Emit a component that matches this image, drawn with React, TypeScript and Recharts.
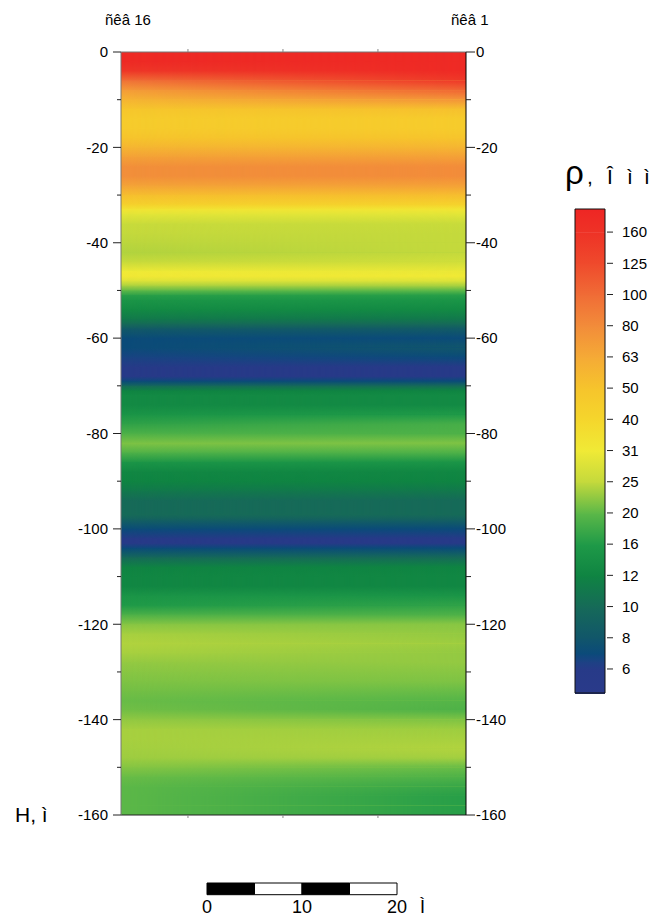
import React from 'react'
import { ComposedChart, BarChart, Bar, XAxis, YAxis, ReferenceArea } from 'recharts'

// depth, m (0 = surface)
const depths = [
  0, -2, -4, -6, -8, -10, -12, -14, -16, -18, -20, -22, -24, -26, -28, -30, -32, -33, -34, -36,
  -38, -40, -42, -44, -46, -47, -48, -49, -50, -51, -52, -54, -56, -57, -58, -60, -62, -64, -66, -68,
  -69, -70, -71, -72, -74, -76, -78, -80, -82, -84, -86, -88, -90, -92, -94, -97, -98, -100, -102, -103,
  -104, -106, -108, -110, -112, -114, -116, -118, -120, -122, -124, -126, -128, -130, -132, -134, -136, -138, -140, -142,
  -144, -146, -148, -150, -152, -154, -156, -158, -160,
]

// resistivity, Ohm*m, well 16 (left side)
const rhoWell16 = [
  180, 180, 150, 95, 70, 57, 48, 45, 46, 50, 57, 68, 78, 78, 66, 52, 42, 33, 29, 25.5,
  25, 24.5, 24, 25.5, 31, 32, 28, 23.5, 20, 16.5, 15, 13, 11, 10, 8.3, 7, 7, 6.5, 6, 6,
  7, 10, 12, 13, 13, 15, 17, 19, 21.5, 19, 15, 12.5, 12, 11, 10, 10, 9, 7, 6, 6,
  7, 10, 12, 12.5, 12.5, 15, 16, 19, 22, 23.5, 24, 23.5, 22.5, 22, 21.5, 21, 20.5, 21, 22.5, 23.5,
  23.5, 23.3, 23, 21.8, 20.5, 20, 20, 20, 20,
]

// resistivity, Ohm*m, well 1 (right side)
const rhoWell1 = [
  180, 180, 180, 150, 105, 75, 52, 46, 46, 50, 57, 68, 80, 80, 68, 53, 42, 33, 29, 25.5,
  25, 25, 25, 26.5, 30, 31.5, 28, 23.5, 20, 16.5, 15, 13, 11, 10, 8.5, 7, 8, 7, 6, 6,
  7, 10, 12, 13, 13, 16, 18.5, 19, 21.5, 19, 15, 12.5, 12, 11, 10, 10, 9, 7, 6, 6,
  7, 10, 12, 12.5, 12.5, 15, 17, 19, 22, 22.5, 23, 22.5, 22.5, 22, 21.5, 20.5, 19.5, 19, 21.5, 23,
  23.5, 24, 23.3, 20.5, 19, 17.5, 16.5, 16.5, 16.5,
]

const depthTicks = [0, -10, -20, -30, -40, -50, -60, -70, -80, -90, -100, -110, -120, -130, -140, -150, -160]
const distTicks = [10, 20, 30]
const legendLevels = [6, 8, 10, 12, 16, 20, 25, 31, 40, 50, 63, 80, 100, 125, 160]
const legendTicks = legendLevels.map((_, i) => i)
const scaleBarSegments = [5, 5, 5, 5]
const scaleBarTicks = [0, 10, 20]

// colour scale, keyed by position on the legend (legend index)
const paletteIdx = [-0.77, 0, 0.25, 0.5, 1, 2, 3, 4, 5, 6, 7, 8, 9, 10, 11, 12, 13, 14, 14.74]
const paletteHex = [
  '#2a3a8a', '#273a88', '#1c4284', '#0b4a7a', '#11566a', '#166a58', '#0f8442', '#1f9a48', '#5cb848', '#c4d93c',
  '#f0ea36', '#f5d62c', '#f6c42c', '#f5aa36', '#f28c3a', '#f06c36', '#ef4a2c', '#ee3226', '#ee2624',
]

const X_DOMAIN = [2.95, 39.27]
const LEG_DOMAIN = [-0.77, 14.74]
const FONT = '"Liberation Sans", Arial, sans-serif'

const rgb = (h: string) => [1, 3, 5].map((k) => parseInt(h.slice(k, k + 2), 16))

function colorAt(t: number) {
  const n = paletteIdx.length
  if (t <= paletteIdx[0]) return paletteHex[0]
  if (t >= paletteIdx[n - 1]) return paletteHex[n - 1]
  let i = 0
  while (t > paletteIdx[i + 1]) i++
  const f = (t - paletteIdx[i]) / (paletteIdx[i + 1] - paletteIdx[i])
  const a = rgb(paletteHex[i])
  const b = rgb(paletteHex[i + 1])
  const c = a.map((v, k) => Math.round(v + (b[k] - v) * f))
  return `rgb(${c[0]},${c[1]},${c[2]})`
}

// resistivity -> legend index (legend levels are equally spaced)
function rhoIdx(r: number) {
  const L = legendLevels
  const n = L.length
  if (r <= L[0]) return Math.log(r / L[0]) / Math.log(L[1] / L[0])
  if (r >= L[n - 1]) return n - 1 + Math.log(r / L[n - 1]) / Math.log(L[n - 1] / L[n - 2])
  let i = 0
  while (r > L[i + 1]) i++
  return i + Math.log(r / L[i]) / Math.log(L[i + 1] / L[i])
}

const rhoColor = (r: number) => colorAt(rhoIdx(r))

// opaque bands run 1px past their end so neighbours never leave a seam;
// the faded (masked) bands are snapped to pixels instead, so they never double up
const band = (fill: string, masked = false, last = false) => (p: any) => (
  <rect
    x={p.x}
    y={p.y}
    width={p.width}
    height={p.height + (last || masked ? 0 : 1)}
    fill={fill}
    mask={masked ? 'url(#fadeR)' : undefined}
    shapeRendering={masked ? 'crispEdges' : undefined}
  />
)

function VGrad({ id, top, bottom }: { id: string; top: string; bottom: string }) {
  return (
    <linearGradient id={id} x1="0" y1="0" x2="0" y2="1">
      <stop offset="0" stopColor={top} />
      <stop offset="1" stopColor={bottom} />
    </linearGradient>
  )
}

function Defs() {
  return (
    <defs>
      <linearGradient id="hfade" x1="0" y1="0" x2="1" y2="0">
        <stop offset="0" stopColor="#fff" stopOpacity={0} />
        <stop offset="1" stopColor="#fff" stopOpacity={1} />
      </linearGradient>
      <mask id="fadeR" maskContentUnits="objectBoundingBox">
        <rect x="0" y="0" width="1" height="1" fill="url(#hfade)" />
      </mask>
      {depths.slice(0, -1).map((_, i) => (
        <VGrad key={'a' + i} id={`w16-${i}`} top={rhoColor(rhoWell16[i])} bottom={rhoColor(rhoWell16[i + 1])} />
      ))}
      {depths.slice(0, -1).map((_, i) => (
        <VGrad key={'b' + i} id={`w1-${i}`} top={rhoColor(rhoWell1[i])} bottom={rhoColor(rhoWell1[i + 1])} />
      ))}
      {paletteIdx.slice(0, -1).map((_, i) => (
        <VGrad key={'c' + i} id={`leg-${i}`} top={paletteHex[i + 1]} bottom={paletteHex[i]} />
      ))}
    </defs>
  )
}

const LeftTick = ({ x, y, payload }: any) => {
  const major = payload.value % 20 === 0
  return (
    <g>
      <line x1={x - (major ? 8 : 4)} x2={x} y1={y} y2={y} stroke="#222" />
      {major && (
        <text x={x - 13} y={y} dy="0.35em" textAnchor="end" fontSize={15} fontFamily={FONT} fill="#000">
          {payload.value}
        </text>
      )}
    </g>
  )
}

const RightTick = ({ x, y, payload }: any) => {
  const major = payload.value % 20 === 0
  return (
    <g>
      <line x1={x} x2={x + (major ? 9 : 5)} y1={y} y2={y} stroke="#222" />
      {major && (
        <text x={x + 10} y={y} dy="0.35em" textAnchor="start" fontSize={15} fontFamily={FONT} fill="#000">
          {payload.value}
        </text>
      )}
    </g>
  )
}

const LegendTick = ({ x, y, payload }: any) => (
  <g>
    <line x1={x + 2} x2={x + 8} y1={y} y2={y} stroke="#222" />
    <text x={x + 17} y={y} dy="0.35em" textAnchor="start" fontSize={15} fontFamily={FONT} fill="#000">
      {legendLevels[payload.value]}
    </text>
  </g>
)

const sectionRows = depths.map((d, i) => ({ x: X_DOMAIN[0], d, w16: rhoWell16[i], w1: rhoWell1[i] }))
const legendRows = legendLevels.map((v, i) => ({ x: 0, i, v }))

function Section() {
  const last = depths.length - 2
  return (
    <ComposedChart
      width={560}
      height={850}
      data={sectionRows}
      margin={{ top: 42, right: 34, bottom: 25, left: 61 }}
    >
      <XAxis
        dataKey="x"
        type="number"
        domain={X_DOMAIN}
        ticks={distTicks}
        tickFormatter={() => ''}
        height={10}
        tickSize={3}
        axisLine={{ stroke: '#222' }}
        tickLine={{ stroke: '#888' }}
        allowDataOverflow
      />
      <XAxis
        xAxisId="top"
        dataKey="x"
        orientation="top"
        type="number"
        domain={X_DOMAIN}
        ticks={distTicks}
        tickFormatter={() => ''}
        height={10}
        tickSize={3}
        axisLine={{ stroke: '#777' }}
        tickLine={{ stroke: '#888' }}
        allowDataOverflow
      />
      <YAxis
        dataKey="d"
        type="number"
        domain={[-160, 0]}
        ticks={depthTicks}
        interval={0}
        width={60}
        tickSize={0}
        tickMargin={0}
        tickLine={false}
        axisLine={{ stroke: '#777' }}
        tick={(p: any) => <LeftTick {...p} />}
        allowDataOverflow
      />
      <YAxis
        yAxisId="r"
        dataKey="d"
        orientation="right"
        type="number"
        domain={[-160, 0]}
        ticks={depthTicks}
        interval={0}
        width={60}
        tickSize={0}
        tickMargin={0}
        tickLine={false}
        axisLine={{ stroke: '#000' }}
        tick={(p: any) => <RightTick {...p} />}
        allowDataOverflow
      />
      {depths.slice(0, -1).map((d, i) => (
        <ReferenceArea
          key={'l' + i}
          x1={X_DOMAIN[0]}
          x2={X_DOMAIN[1]}
          y1={d}
          y2={depths[i + 1]}
          ifOverflow="visible"
          shape={band(`url(#w16-${i})`, false, i === last)}
        />
      ))}
      {depths.slice(0, -1).map((d, i) => (
        <ReferenceArea
          key={'r' + i}
          x1={X_DOMAIN[0]}
          x2={X_DOMAIN[1]}
          y1={d}
          y2={depths[i + 1]}
          ifOverflow="visible"
          shape={band(`url(#w1-${i})`, true, i === last)}
        />
      ))}
    </ComposedChart>
  )
}

function Legend() {
  const last = paletteIdx.length - 2
  return (
    <ComposedChart
      width={117}
      height={540}
      data={legendRows}
      margin={{ top: 29, right: 0, bottom: 27, left: 35 }}
    >
      <XAxis dataKey="x" type="number" domain={[0, 1]} hide />
      <YAxis
        dataKey="i"
        orientation="right"
        type="number"
        domain={LEG_DOMAIN}
        ticks={legendTicks}
        interval={0}
        width={52}
        tickSize={0}
        tickMargin={0}
        tickLine={false}
        axisLine={false}
        tick={(p: any) => <LegendTick {...p} />}
        allowDataOverflow
      />
      {paletteIdx.slice(0, -1).map((v, i) => (
        <ReferenceArea
          key={i}
          x1={0}
          x2={1}
          y1={paletteIdx[i + 1]}
          y2={v}
          ifOverflow="visible"
          shape={band(`url(#leg-${i})`, false, i === last)}
        />
      ))}
      <ReferenceArea
        x1={0}
        x2={1}
        y1={LEG_DOMAIN[0]}
        y2={LEG_DOMAIN[1]}
        ifOverflow="visible"
        fill="none"
        fillOpacity={0}
        stroke="#111"
        strokeWidth={1}
      />
    </ComposedChart>
  )
}

function ScaleBar() {
  const row: Record<string, any> = { name: 'bar' }
  scaleBarSegments.forEach((v, i) => (row['s' + i] = v))
  return (
    <BarChart
      layout="vertical"
      width={250}
      height={45}
      data={[row]}
      margin={{ top: 10, right: 30, bottom: 0, left: 30 }}
      barCategoryGap={0}
    >
      <XAxis
        type="number"
        domain={[0, 20]}
        ticks={scaleBarTicks}
        interval={0}
        height={22}
        axisLine={false}
        tickLine={false}
        tickSize={0}
        tickMargin={5}
        tick={{ fontSize: 18, fontFamily: FONT, fill: '#000' }}
      />
      <YAxis type="category" dataKey="name" hide />
      {scaleBarSegments.map((_, i) => (
        <Bar
          key={i}
          dataKey={'s' + i}
          stackId="a"
          fill={i % 2 === 0 ? '#000' : '#fff'}
          stroke="#000"
          strokeWidth={1}
          barSize={13}
          isAnimationActive={false}
        />
      ))}
    </BarChart>
  )
}

export default function App() {
  return (
    <div
      style={{
        position: 'absolute',
        left: 0,
        top: 0,
        width: 657,
        height: 917,
        overflow: 'hidden',
        background: '#fff',
        fontFamily: FONT,
      }}
    >
      <div style={{ position: 'absolute', left: 0, top: 0 }}>
        <Section />
      </div>
      <div style={{ position: 'absolute', left: 540, top: 180 }}>
        <Legend />
      </div>
      <div style={{ position: 'absolute', left: 177, top: 872 }}>
        <ScaleBar />
      </div>
      <svg
        width={657}
        height={917}
        style={{ position: 'absolute', left: 0, top: 0, pointerEvents: 'none' }}
        fontFamily={FONT}
      >
        <Defs />
        <text x={105} y={25} fontSize={15} fill="#000">ñêâ 16</text>
        <text x={451} y={25} fontSize={15} fill="#000">ñêâ 1</text>
        <text x={15} y={822} fontSize={21} fill="#000">H, ì</text>
        <text x={565} y={184} fill="#000">
          <tspan fontSize={33}>ρ</tspan>
          <tspan x={587} fontSize={21}>,</tspan>
          <tspan x={607} fontSize={21}>Î</tspan>
          <tspan x={627} fontSize={21}>ì</tspan>
          <tspan x={644} fontSize={21}>ì</tspan>
        </text>
        <text x={420} y={913} fontSize={18} fill="#000">Ì</text>
      </svg>
    </div>
  )
}
